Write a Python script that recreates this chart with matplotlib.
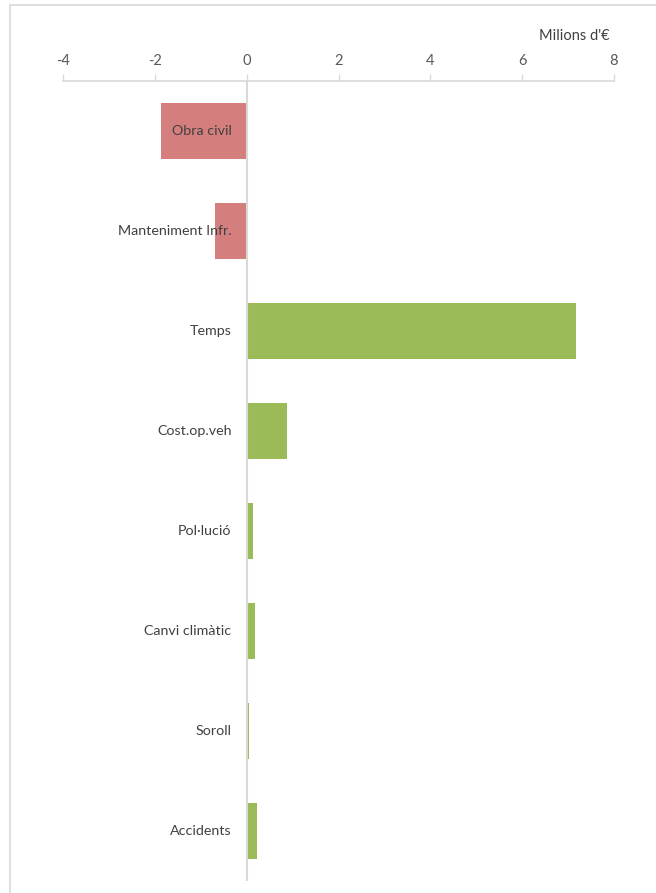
import matplotlib
matplotlib.use("Agg")
import matplotlib.pyplot as plt
from matplotlib.patches import Rectangle

plt.rcParams['font.family'] = ['Lato', 'DejaVu Sans']

categories = ["Obra civil", "Manteniment Infr.", "Temps", "Cost.op.veh",
              "Pol·lució", "Canvi climàtic", "Soroll", "Accidents"]
values = [-1.87, -0.70, 7.18, 0.88, 0.14, 0.18, 0.05, 0.23]
x_ticks = [-4, -2, 0, 2, 4, 6, 8]
unit_label = "Milions d'€"

neg_color = "#D47F7E"
pos_color = "#9BBB59"
grid_color = "#D9D9D9"
text_color = "#404040"

W, H = 656, 893
fig = plt.figure(figsize=(W / 100, H / 100), dpi=100)
fig.patch.set_facecolor("white")

# light chart-area frame
fig.patches.append(Rectangle((10 / W, -0.01), 1.0, 1 - 5 / H + 0.01,
                             transform=fig.transFigure, fill=False,
                             edgecolor=grid_color, linewidth=1.2))

ax = fig.add_axes([63 / W, 1 - 881 / H, (614 - 63) / W, (881 - 81) / H])

ypos = list(range(len(categories)))
colors = [neg_color if v < 0 else pos_color for v in values]
ax.barh(ypos, values, height=0.56, color=colors, zorder=2)

ax.set_xlim(x_ticks[0], x_ticks[-1])
ax.set_ylim(len(categories) - 0.5, -0.5)
ax.set_xticks(x_ticks)
ax.set_xticklabels([str(t) for t in x_ticks])
ax.xaxis.tick_top()
ax.tick_params(axis="x", colors=grid_color, labelcolor="#595959",
               labelsize=10.5, length=5, width=1, pad=4)
ax.set_yticks([])

for side in ("left", "right", "bottom"):
    ax.spines[side].set_visible(False)
ax.spines["top"].set_color(grid_color)
ax.spines["top"].set_linewidth(1.2)

ax.axvline(0, color=grid_color, linewidth=1.5, zorder=3)

for y, name in zip(ypos, categories):
    ax.annotate(name, xy=(0, y), xytext=(-11, 0), textcoords="offset points",
                ha="right", va="center", fontsize=10.3, color=text_color,
                zorder=4)

ax.annotate(unit_label, xy=(1, 1), xycoords="axes fraction",
            xytext=(-3, 27), textcoords="offset points",
            ha="right", va="bottom", fontsize=10.5, color=text_color)

fig.savefig("out.png", dpi=100, facecolor="white")
